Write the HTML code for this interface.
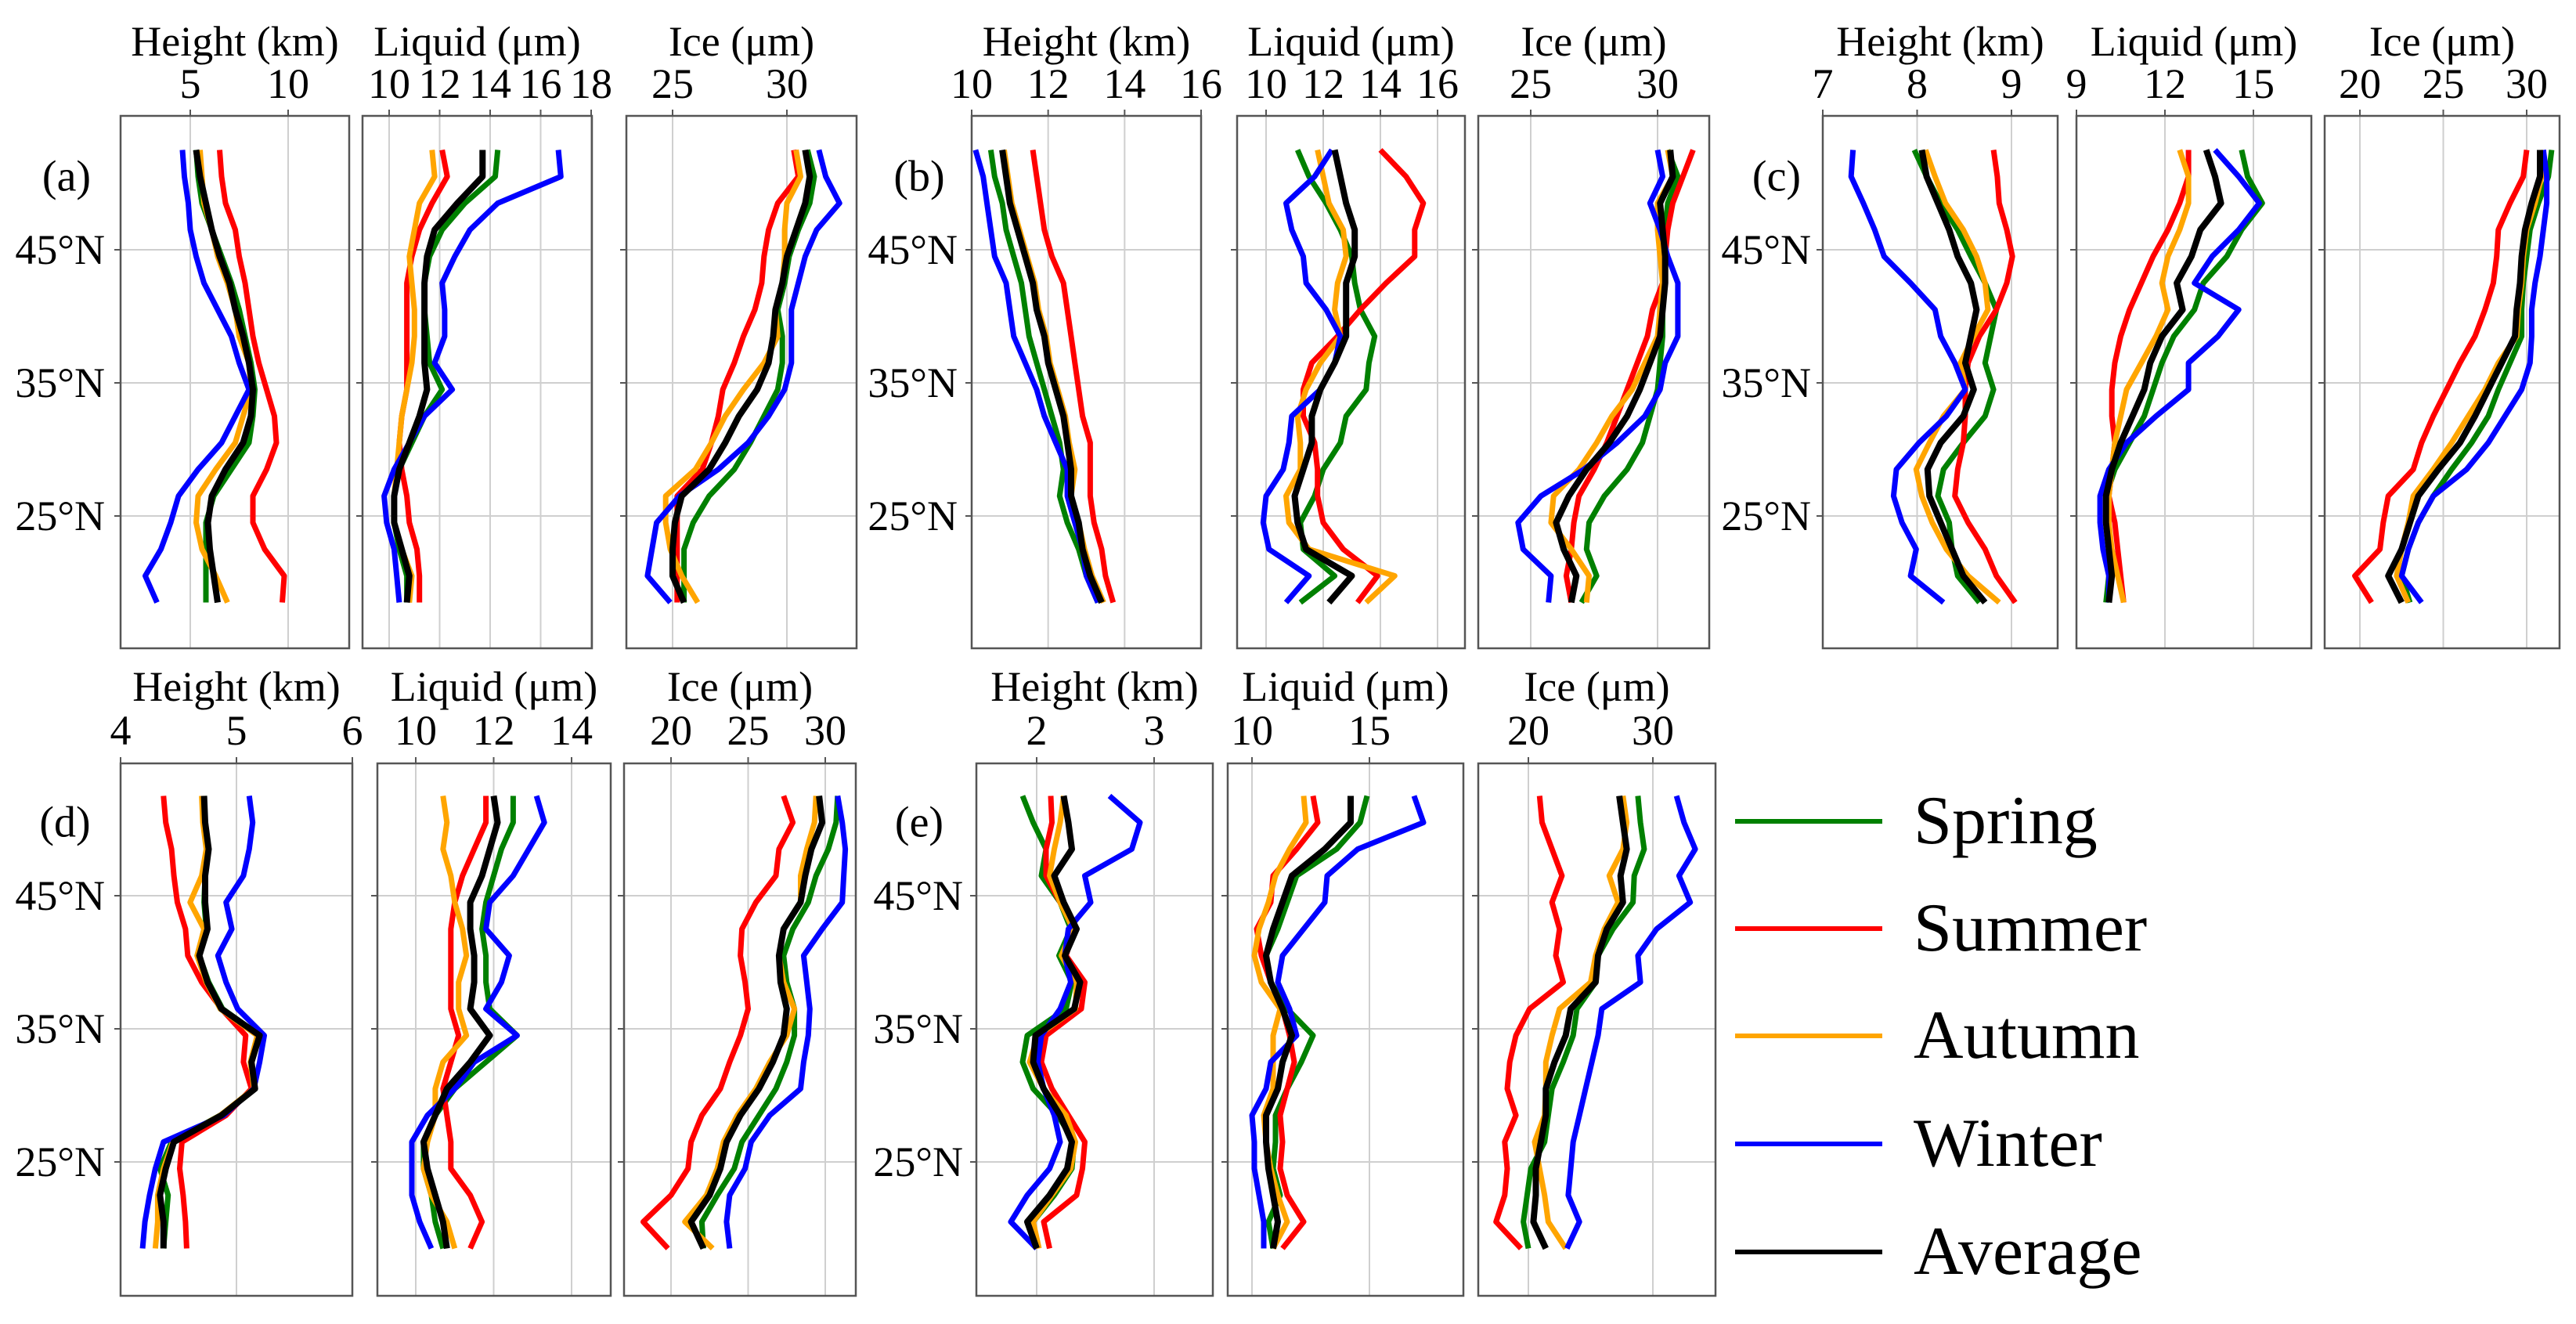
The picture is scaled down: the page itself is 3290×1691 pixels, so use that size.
<!DOCTYPE html>
<html><head><meta charset="utf-8">
<style>
html,body{margin:0;padding:0;background:#fff;}
svg{display:block;font-family:"Liberation Serif","DejaVu Serif",serif;}
</style></head>
<body>
<svg id="chart" xmlns="http://www.w3.org/2000/svg" width="3290" height="1691" viewBox="0 0 3290 1691"></svg>
<script>
const latitudes = [52.5,50.5,48.5,46.5,44.5,42.5,40.5,38.5,36.5,34.5,32.5,30.5,28.5,26.5,24.5,22.5,20.5,18.5];
const latTicks = [45,35,25];
const latTickLabels = ["45°N","35°N","25°N"];
const seasonNames = ["Spring","Summer","Autumn","Winter","Average"];

const aH_spring=[5.3,5.4,5.6,6.1,6.6,7.1,7.5,7.8,8.1,8.3,8.2,8.0,7.1,6.2,5.8,5.8,5.8,5.8];
const aH_summer=[6.5,6.6,6.8,7.3,7.5,7.8,8.0,8.2,8.5,8.9,9.3,9.4,8.9,8.2,8.2,8.8,9.8,9.7];
const aH_autumn=[5.5,5.6,5.7,6.1,6.4,6.9,7.3,7.5,8.0,8.1,7.7,7.3,6.3,5.4,5.3,5.6,6.3,6.9];
const aH_winter=[4.6,4.7,4.9,5.0,5.3,5.7,6.4,7.1,7.5,8.0,7.3,6.6,5.4,4.4,4.0,3.5,2.7,3.3];
const aH_average=[5.3,5.5,5.8,6.1,6.5,7.0,7.3,7.7,8.0,8.2,8.1,7.7,6.8,6.1,5.9,6.0,6.2,6.4];
const aL_spring=[14.3,14.2,13.0,12.1,11.6,11.4,11.4,11.5,11.6,12.1,11.4,10.9,10.4,10.2,10.2,10.4,10.7,10.7];
const aL_summer=[12.1,12.3,11.7,11.2,10.9,10.7,10.7,10.7,10.7,10.7,10.5,10.4,10.5,10.7,10.8,11.1,11.2,11.2];
const aL_autumn=[11.7,11.8,11.2,11.0,10.8,10.9,11.0,11.0,10.9,10.7,10.5,10.4,10.3,10.2,10.2,10.5,10.9,10.8];
const aL_winter=[16.7,16.8,14.3,13.2,12.6,12.1,12.2,12.2,11.8,12.5,11.4,10.8,10.2,9.8,9.9,10.2,10.3,10.4];
const aL_average=[13.7,13.7,12.7,11.8,11.5,11.4,11.4,11.4,11.4,11.5,11.2,10.8,10.4,10.2,10.2,10.5,10.8,10.7];
const aI_spring=[30.9,31.2,31.0,30.5,30.1,29.9,29.6,29.8,29.8,29.6,29.0,28.4,27.7,26.6,25.9,25.5,25.5,25.5];
const aI_summer=[30.3,30.5,29.6,29.2,29.0,28.9,28.6,28.1,27.7,27.2,27.0,26.7,26.3,25.2,25.2,25.2,25.2,25.2];
const aI_autumn=[30.4,30.6,30.0,29.9,29.9,29.8,29.5,29.6,29.0,28.1,27.3,26.7,26.0,24.7,24.7,24.9,25.4,26.1];
const aI_winter=[31.4,31.7,32.3,31.3,30.8,30.5,30.2,30.2,30.2,29.9,29.2,28.3,27.0,25.3,24.3,24.1,23.9,24.9];
const aI_average=[30.8,31.0,30.8,30.4,30.0,29.8,29.5,29.4,29.2,28.7,27.9,27.3,26.6,25.4,25.1,25.0,25.0,25.5];

const bH_spring=[10.5,10.6,10.8,10.9,11.1,11.3,11.4,11.5,11.7,11.9,12.1,12.3,12.4,12.3,12.5,12.8,13.0,13.3];
const bH_summer=[11.6,11.7,11.8,11.9,12.1,12.4,12.5,12.6,12.7,12.8,12.9,13.1,13.1,13.1,13.2,13.4,13.5,13.7];
const bH_autumn=[10.85,10.95,11.05,11.25,11.45,11.65,11.75,11.95,12.05,12.25,12.45,12.55,12.7,12.6,12.8,12.95,13.15,13.45];
const bH_winter=[10.1,10.3,10.4,10.5,10.6,10.9,11.0,11.1,11.4,11.7,11.9,12.2,12.5,12.5,12.7,12.9,13.0,13.3];
const bH_average=[10.8,10.9,11.0,11.2,11.4,11.6,11.7,11.9,12.0,12.2,12.4,12.5,12.6,12.6,12.8,12.9,13.1,13.4];
const bL_spring=[11.1,11.5,12.1,12.6,13.0,13.1,13.3,13.8,13.6,13.5,12.8,12.6,12.0,11.7,11.2,11.3,12.4,11.2];
const bL_summer=[14.0,14.9,15.5,15.2,15.2,14.2,13.3,12.5,11.6,11.3,11.3,11.7,11.8,11.8,12.0,12.7,13.9,13.2];
const bL_autumn=[11.8,12.0,12.2,12.7,12.8,12.5,12.4,12.6,11.9,11.4,11.1,11.2,11.2,10.7,10.8,11.5,14.5,13.5];
const bL_winter=[12.3,11.7,10.7,10.9,11.3,11.4,12.1,12.6,12.4,11.9,10.9,10.8,10.6,10.0,9.9,10.1,11.5,10.7];
const bL_average=[12.4,12.6,12.8,13.1,13.1,12.8,12.8,12.8,12.4,11.9,11.6,11.6,11.3,11.0,11.1,11.4,13.0,12.2];
const bI_spring=[30.4,30.8,30.4,30.3,30.3,30.3,30.2,30.2,30.1,30.0,29.7,29.4,28.8,27.9,27.3,27.2,27.6,27.0];
const bI_summer=[31.4,31.0,30.6,30.4,30.3,30.2,29.8,29.6,29.2,28.8,28.4,28.0,27.5,26.9,26.7,26.6,26.4,26.6];
const bI_autumn=[30.4,30.6,30.0,30.0,30.1,30.2,30.1,30.0,29.5,29.0,28.2,27.6,26.9,25.9,25.8,26.6,27.3,27.2];
const bI_winter=[30.0,30.2,29.7,30.1,30.4,30.8,30.8,30.8,30.3,30.1,29.5,28.4,27.1,25.4,24.5,24.7,25.8,25.7];
const bI_average=[30.5,30.6,30.1,30.2,30.3,30.3,30.2,30.1,29.7,29.3,28.8,28.1,27.2,26.5,26.0,26.3,26.8,26.6];

const cH_spring=[7.97,8.1,8.25,8.43,8.57,8.72,8.84,8.78,8.72,8.81,8.72,8.49,8.28,8.22,8.34,8.37,8.43,8.66];
const cH_summer=[8.81,8.85,8.87,8.95,9.01,8.95,8.84,8.66,8.54,8.51,8.51,8.49,8.43,8.4,8.54,8.72,8.84,9.04];
const cH_autumn=[8.09,8.19,8.3,8.49,8.63,8.72,8.75,8.6,8.46,8.51,8.28,8.13,7.99,8.05,8.16,8.31,8.54,8.87];
const cH_winter=[7.32,7.3,7.43,7.55,7.65,7.93,8.19,8.25,8.4,8.51,8.31,8.02,7.78,7.75,7.84,7.99,7.93,8.28];
const cH_average=[8.05,8.1,8.22,8.34,8.43,8.57,8.63,8.57,8.51,8.6,8.49,8.25,8.11,8.13,8.25,8.37,8.49,8.72];
const cL_spring=[14.6,14.8,15.3,14.6,14.1,13.3,13.0,12.3,11.9,11.6,11.3,10.8,10.3,10.0,10.0,10.1,10.1,10.0];
const cL_summer=[12.8,12.8,12.5,12.1,11.6,11.2,10.8,10.5,10.3,10.2,10.2,10.3,10.2,10.1,10.3,10.4,10.5,10.6];
const cL_autumn=[12.5,12.8,12.8,12.5,12.1,11.9,12.1,11.7,11.2,10.7,10.5,10.3,10.2,10.1,10.1,10.2,10.4,10.6];
const cL_winter=[13.7,14.5,15.2,14.5,13.6,13.0,14.5,13.8,12.8,12.8,11.7,10.7,10.1,9.8,9.8,9.9,10.1,10.1];
const cL_average=[13.4,13.7,13.9,13.2,12.9,12.4,12.6,11.9,11.5,11.3,10.9,10.5,10.2,10.0,10.0,10.1,10.2,10.1];
const cI_spring=[31.5,31.3,30.7,30.2,30.0,29.8,29.7,29.7,29.0,28.3,27.7,26.7,25.5,24.4,23.5,22.9,22.5,23.0];
const cI_summer=[30.0,29.8,29.0,28.3,28.2,28.0,27.5,26.9,26.0,25.2,24.4,23.7,23.2,21.7,21.4,21.2,19.7,20.7];
const cI_autumn=[30.8,30.9,30.5,30.0,29.8,29.7,29.5,29.4,28.3,27.5,26.5,25.5,24.4,23.2,22.9,22.5,22.2,22.9];
const cI_winter=[31.0,31.2,31.2,31.0,30.8,30.5,30.3,30.3,30.2,29.7,28.7,27.7,26.4,24.4,23.5,22.9,22.5,23.7];
const cI_average=[30.8,30.8,30.3,29.9,29.7,29.6,29.4,29.3,28.5,27.7,26.9,26.0,24.7,23.5,23.0,22.5,21.7,22.5];

const dH_spring=[4.72,4.73,4.76,4.73,4.72,4.74,4.68,4.76,4.88,5.2,5.13,5.16,4.86,4.44,4.34,4.41,4.39,4.37];
const dH_summer=[4.37,4.39,4.44,4.46,4.49,4.56,4.58,4.7,4.87,5.08,5.06,5.13,4.91,4.53,4.51,4.54,4.56,4.57];
const dH_autumn=[4.70,4.71,4.74,4.70,4.60,4.72,4.66,4.74,4.86,5.18,5.12,5.15,4.86,4.45,4.37,4.32,4.32,4.3];
const dH_winter=[5.11,5.14,5.11,5.06,4.91,4.96,4.84,4.91,5.01,5.24,5.2,5.15,4.89,4.37,4.3,4.25,4.21,4.19];
const dH_average=[4.72,4.73,4.76,4.73,4.73,4.75,4.68,4.75,4.87,5.2,5.13,5.16,4.87,4.46,4.39,4.34,4.37,4.37];
const dL_spring=[12.5,12.5,12.2,12.0,11.8,11.7,11.8,11.8,11.9,12.6,11.8,11.0,10.5,10.2,10.2,10.4,10.5,10.7];
const dL_summer=[11.8,11.8,11.5,11.2,11.0,10.9,10.9,10.9,10.9,11.1,10.9,10.7,10.8,10.9,10.9,11.4,11.7,11.4];
const dL_autumn=[10.7,10.8,10.7,10.9,11.0,11.2,11.3,11.1,11.1,11.3,10.7,10.5,10.5,10.3,10.2,10.4,10.8,11.0];
const dL_winter=[13.1,13.3,12.9,12.5,11.9,11.8,12.4,12.2,11.8,12.6,11.5,11.0,10.3,9.9,9.9,9.9,10.1,10.4];
const dL_average=[12.0,12.1,11.9,11.7,11.4,11.4,11.5,11.5,11.4,11.9,11.4,10.8,10.5,10.2,10.3,10.5,10.7,10.8];
const dI_spring=[30.8,30.7,30.2,29.4,28.9,27.9,27.3,27.5,28.0,28.0,27.5,26.8,25.7,24.6,24.1,23.0,22.0,22.1];
const dI_summer=[27.3,27.9,27.0,26.8,25.5,24.6,24.5,24.8,25.0,24.5,23.8,23.2,22.0,21.3,21.1,20.0,18.2,19.8];
const dI_autumn=[29.4,29.3,28.8,28.4,28.4,27.3,27.0,27.3,28.0,27.5,26.4,25.5,24.3,23.4,23.0,22.3,20.9,22.7];
const dI_winter=[30.8,31.1,31.3,31.2,31.1,29.8,28.6,28.8,29.0,28.9,28.6,28.4,26.4,25.2,24.8,23.8,23.6,23.8];
const dI_average=[29.6,29.8,29.1,28.7,28.4,27.3,27.0,27.1,27.5,27.3,26.6,25.7,24.5,23.6,23.2,22.5,21.3,22.1];

const eH_spring=[1.88,1.97,2.08,2.04,2.2,2.29,2.19,2.3,2.25,1.92,1.88,1.97,2.18,2.32,2.3,2.15,1.97,2.0];
const eH_summer=[2.12,2.13,2.08,2.08,2.2,2.32,2.25,2.41,2.38,2.08,2.04,2.13,2.27,2.41,2.39,2.34,2.06,2.11];
const eH_autumn=[2.23,2.2,2.15,2.11,2.2,2.31,2.21,2.34,2.33,2.01,1.94,2.06,2.25,2.33,2.29,2.13,1.97,2.02];
const eH_winter=[2.62,2.88,2.81,2.41,2.46,2.27,2.24,2.29,2.2,2.04,2.01,2.06,2.15,2.2,2.11,1.92,1.78,2.0];
const eH_average=[2.23,2.27,2.3,2.15,2.23,2.34,2.24,2.37,2.32,1.99,1.97,2.06,2.2,2.3,2.26,2.11,1.92,2.0];
const eL_spring=[14.9,14.6,13.6,11.9,11.5,11.1,10.6,10.8,11.5,12.6,12.1,11.5,11.0,11.0,10.9,11.2,10.7,10.9];
const eL_summer=[12.6,12.8,11.9,10.9,10.8,10.2,10.4,10.8,11.3,11.6,11.8,11.5,11.2,11.3,11.2,11.5,12.2,11.3];
const eL_autumn=[12.2,12.3,11.6,11.0,10.7,10.3,10.1,10.4,11.2,10.9,10.9,10.9,10.5,10.6,10.8,11.1,11.5,10.9];
const eL_winter=[16.9,17.3,14.5,13.2,13.1,12.2,11.3,11.1,11.6,11.9,10.8,10.6,10.0,10.1,10.1,10.3,10.5,10.5];
const eL_average=[14.2,14.2,13.1,11.7,11.3,10.9,10.6,10.8,11.3,11.7,11.3,11.1,10.6,10.6,10.7,10.9,11.1,10.9];
const eI_spring=[28.8,29.0,29.3,28.5,28.4,26.8,25.6,25.4,23.9,23.6,22.8,21.9,21.6,21.3,20.2,19.9,19.6,20.0];
const eI_summer=[20.9,21.1,21.9,22.7,21.9,22.5,22.2,22.8,20.1,19.0,18.5,18.3,19.0,18.1,18.3,18.1,17.4,19.4];
const eI_autumn=[27.6,27.9,27.6,26.5,27.2,26.1,25.4,25.0,22.5,21.9,21.4,21.4,21.3,20.5,20.9,21.3,21.6,23.0];
const eI_winter=[31.9,32.5,33.4,32.1,33.0,30.3,28.8,29.0,25.9,25.6,25.1,24.6,24.1,23.6,23.4,23.2,24.1,23.1];
const eI_average=[27.3,27.6,27.9,27.4,27.6,26.3,25.6,25.4,23.4,23.0,22.1,21.4,21.4,21.0,20.6,20.6,20.4,21.4];

const aH_ticks=[5,10], aL_ticks=[10,12,14,16,18], aI_ticks=[25,30];
const bH_ticks=[10,12,14,16], bL_ticks=[10,12,14,16], bI_ticks=[25,30];
const cH_ticks=[7,8,9], cL_ticks=[9,12,15], cI_ticks=[20,25,30];
const dH_ticks=[4,5,6], dL_ticks=[10,12,14], dI_ticks=[20,25,30];
const eH_ticks=[2,3], eL_ticks=[10,15], eI_ticks=[20,30];

const colors=["#008000","#ff0000","#ffa500","#0000ff","#000000"];
const svg=document.getElementById('chart');
const NS="http://www.w3.org/2000/svg";
function mk(tag,attrs,parent){const e=document.createElementNS(NS,tag);for(const k in attrs)e.setAttribute(k,attrs[k]);(parent||svg).appendChild(e);return e;}

const rows=[{top:148,bot:828,y35:489,titleY:52,tickY:106},{top:975,bot:1655,y35:1314,titleY:876,tickY:932}];
function latY(row,lat){return row.y35-(lat-35)*17;}

const groups=[
 {id:"a",row:0,labelX:85,ylabX:134,panels:[
  {kind:"height",x0:154,x1:446,v0:5,p0:243,v1:10,p1:368,ticks:aH_ticks,series:[aH_spring,aH_summer,aH_autumn,aH_winter,aH_average]},
  {kind:"liquid",x0:463,x1:756,v0:10,p0:497,v1:18,p1:755,ticks:aL_ticks,series:[aL_spring,aL_summer,aL_autumn,aL_winter,aL_average]},
  {kind:"ice",x0:800,x1:1094,v0:25,p0:859,v1:30,p1:1005,ticks:aI_ticks,series:[aI_spring,aI_summer,aI_autumn,aI_winter,aI_average]}]},
 {id:"b",row:0,labelX:1174,ylabX:1223,panels:[
  {kind:"height",x0:1241,x1:1534,v0:10,p0:1241,v1:16,p1:1534,ticks:bH_ticks,series:[bH_spring,bH_summer,bH_autumn,bH_winter,bH_average]},
  {kind:"liquid",x0:1580,x1:1871,v0:10,p0:1617,v1:16,p1:1836,ticks:bL_ticks,series:[bL_spring,bL_summer,bL_autumn,bL_winter,bL_average]},
  {kind:"ice",x0:1888,x1:2183,v0:25,p0:1955,v1:30,p1:2117,ticks:bI_ticks,series:[bI_spring,bI_summer,bI_autumn,bI_winter,bI_average]}]},
 {id:"c",row:0,labelX:2269,ylabX:2313,panels:[
  {kind:"height",x0:2328,x1:2628,v0:7,p0:2328,v1:9,p1:2569,ticks:cH_ticks,series:[cH_spring,cH_summer,cH_autumn,cH_winter,cH_average]},
  {kind:"liquid",x0:2652,x1:2952,v0:9,p0:2652,v1:15,p1:2878,ticks:cL_ticks,series:[cL_spring,cL_summer,cL_autumn,cL_winter,cL_average]},
  {kind:"ice",x0:2969,x1:3269,v0:20,p0:3014,v1:30,p1:3227,ticks:cI_ticks,series:[cI_spring,cI_summer,cI_autumn,cI_winter,cI_average]}]},
 {id:"d",row:1,labelX:83,ylabX:134,panels:[
  {kind:"height",x0:154,x1:450,v0:4,p0:154,v1:6,p1:450,ticks:dH_ticks,series:[dH_spring,dH_summer,dH_autumn,dH_winter,dH_average]},
  {kind:"liquid",x0:482,x1:780,v0:10,p0:531,v1:14,p1:730,ticks:dL_ticks,series:[dL_spring,dL_summer,dL_autumn,dL_winter,dL_average]},
  {kind:"ice",x0:797,x1:1093,v0:20,p0:857,v1:30,p1:1054,ticks:dI_ticks,series:[dI_spring,dI_summer,dI_autumn,dI_winter,dI_average]}]},
 {id:"e",row:1,labelX:1174,ylabX:1230,panels:[
  {kind:"height",x0:1247,x1:1549,v0:2,p0:1324,v1:3,p1:1474,ticks:eH_ticks,series:[eH_spring,eH_summer,eH_autumn,eH_winter,eH_average]},
  {kind:"liquid",x0:1568,x1:1869,v0:10,p0:1599,v1:15,p1:1749,ticks:eL_ticks,series:[eL_spring,eL_summer,eL_autumn,eL_winter,eL_average]},
  {kind:"ice",x0:1888,x1:2191,v0:20,p0:1952,v1:30,p1:2111,ticks:eI_ticks,series:[eI_spring,eI_summer,eI_autumn,eI_winter,eI_average]}]}
];
const titles={height:"Height (km)",liquid:"Liquid (μm)",ice:"Ice (μm)"};

groups.forEach(g=>{
  const row=rows[g.row];
  const G=mk('g',{});
  
  
  const lab=mk('text',{x:g.labelX,y:latY(row,50.5)+18,'font-size':56,'text-anchor':'middle'},G);
  
  
  lab.textContent='('+g.id+')';
  latTicks.forEach((lt,i)=>{
    const t=mk('text',{x:g.ylabX,y:latY(row,lt)+18,'font-size':54,'text-anchor':'end'},G);
    
    
    t.textContent=latTickLabels[i];
  });
  g.panels.forEach(p=>{
    const sx=v=>p.p0+(v-p.v0)*(p.p1-p.p0)/(p.v1-p.v0);
    const P=mk('g',{},G);
    
    
    p.ticks.forEach(tv=>{
      const x=sx(tv);
      const gl=mk('line',{x1:x,x2:x,y1:row.top,y2:row.bot,stroke:'#cfcfcf','stroke-width':2},P);
      
      
      const tk=mk('line',{x1:x,x2:x,y1:row.top-8,y2:row.top,stroke:'#555','stroke-width':2},P);
      
      
      const tl=mk('text',{x:x,y:row.tickY+19,'font-size':54,'text-anchor':'middle'},P);
      
      
      tl.textContent=String(tv);
    });
    latTicks.forEach(lt=>{
      const y=latY(row,lt);
      const gl=mk('line',{x1:p.x0,x2:p.x1,y1:y,y2:y,stroke:'#cfcfcf','stroke-width':2},P);
      
      
      const tk=mk('line',{x1:p.x0-8,x2:p.x0,y1:y,y2:y,stroke:'#555','stroke-width':2},P);
      
      
    });
    const tt=mk('text',{x:(p.x0+p.x1)/2,y:row.titleY+19,'font-size':54,'text-anchor':'middle'},P);
    
    
    tt.textContent=titles[p.kind];
    p.series.forEach((vals,si)=>{
      const pts=vals.map((v,i)=>sx(v).toFixed(1)+','+latY(row,latitudes[i]).toFixed(1)).join(' ');
      const pl=mk('polyline',{points:pts,fill:'none',stroke:colors[si],'stroke-width':si===4?8:7,'stroke-linejoin':'round'},P);
      
      
    });
    const bx=mk('rect',{x:p.x0,y:row.top,width:p.x1-p.x0,height:row.bot-row.top,fill:'none',stroke:'#555','stroke-width':2.5},P);
    
    
  });
});

const legendY=[1049,1186,1323,1461,1599];
const L=mk('g',{});


seasonNames.forEach((n,i)=>{
  const e=mk('g',{},L);
  
  
  mk('line',{x1:2216,x2:2404,y1:legendY[i],y2:legendY[i],stroke:colors[i],'stroke-width':6},e);
  const t=mk('text',{x:2444,y:legendY[i]+28,'font-size':88},e);
  t.textContent=n;
});
</script>
</body></html>
